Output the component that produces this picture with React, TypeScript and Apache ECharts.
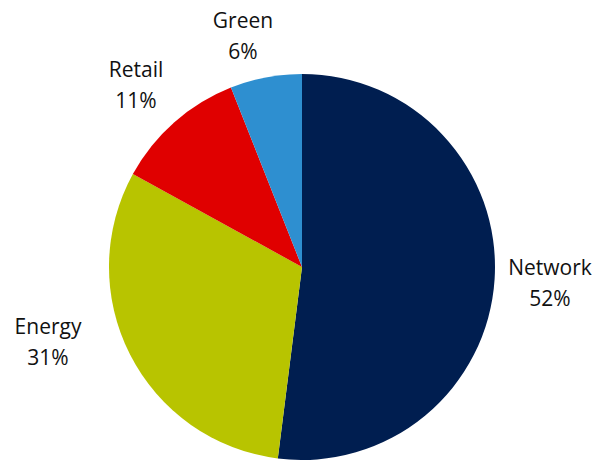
import React, { useEffect, useRef } from "react";
import * as echarts from "echarts";

const categories = ["Network", "Energy", "Retail", "Green"];
const values = [52, 31, 11, 6];
const colors = ["#001E50", "#B8C400", "#E00000", "#2E8FD0"];

// label centre positions (pixels) for each slice label
const labelX = [550, 48, 136, 243];
const labelY = [282, 341, 84, 35];

export default function App() {
  const ref = useRef<HTMLDivElement>(null);
  useEffect(() => {
    document.body.style.margin = "0";
    const chart = echarts.init(ref.current!, null, { renderer: "svg" });
    chart.setOption({
      animation: false,
      backgroundColor: "#ffffff",
      series: [
        {
          type: "pie",
          center: [302, 267],
          radius: [0, 193],
          startAngle: 90,
          clockwise: true,
          avoidLabelOverlap: false,
          itemStyle: { borderWidth: 0 },
          label: {
            show: true,
            position: "outside",
            formatter: (p: any) => `${p.name}\n${p.value}%`,
            fontFamily: "Open Sans",
            fontSize: 21,
            lineHeight: 31,
            color: "#111111",
            align: "center",
          },
          labelLine: { show: false },
          labelLayout: (params: any) => ({
            x: labelX[params.dataIndex],
            y: labelY[params.dataIndex],
            align: "center",
            verticalAlign: "middle",
          }),
          emphasis: { disabled: true },
          data: categories.map((c, i) => ({
            name: c,
            value: values[i],
            itemStyle: { color: colors[i] },
          })),
        },
      ],
    });
    return () => chart.dispose();
  }, []);
  return <div ref={ref} style={{ width: 596, height: 460 }} />;
}
